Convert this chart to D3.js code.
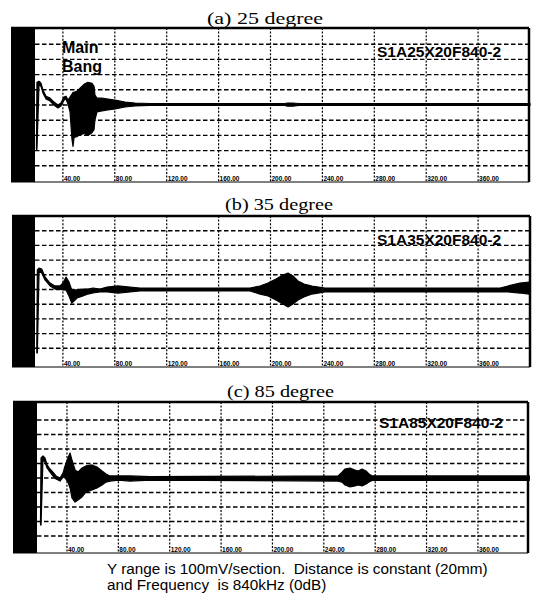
<!DOCTYPE html>
<html>
<head>
<meta charset="utf-8">
<script src="https://cdn.jsdelivr.net/npm/d3@7"></script>
<style>
  body { margin: 0; background: #fff; }
  svg { display: block; }
</style>
</head>
<body>
<svg width="533" height="595"></svg>
<script>
// chart data
const distTicks = [40, 80, 120, 160, 200, 240, 280, 320, 360];
const voltTicks = [-400, -300, -200, -100, 0, 100, 200, 300, 400];
const panelTitles = ["(a) 25 degree", "(b) 35 degree", "(c) 85 degree"];
const sampleNames = ["S1A25X20F840-2", "S1A35X20F840-2", "S1A85X20F840-2"];
const bangLabel = ["Main", "Bang"];
const footNote = [
  "Y range is 100mV/section.  Distance is constant (20mm)",
  "and Frequency  is 840kHz (0dB)"
];

// [distance, upper envelope (mV), lower envelope (mV)]
const trace25 = [
  [19.6, -280, -292], [20.0, 149, -292], [21.6, 156, 136], [23.1, 143, 123],
  [24.7, 97, 78], [27.0, 58, 39], [30.1, 45, 26], [33.1, 19, 0],
  [36.2, 0, -19], [38.5, 13, -6], [40.8, 52, 32], [42.4, 58, 39],
  [43.9, 32, 6], [45.5, 52, -45], [47.0, 71, -227], [47.8, 84, -273],
  [48.6, 84, -214], [50.9, 91, -208], [53.2, 110, -195], [56.3, 136, -188],
  [59.3, 149, -201], [62.4, 143, -182], [64.0, 123, -162], [64.7, 65, -97],
  [66.3, 45, -45], [70.1, 45, -39], [74.8, 39, -32], [80.2, 32, -26],
  [87.9, 19, -13], [95.6, 13, -6], [107, 10, -3], [211, 10, -3],
  [213, 13, -8], [217, 13, -8], [222, 10, -3], [400, 10, -3]
];
const trace35 = [
  [19.9, -377, -432], [20.3, 133, -432], [21.6, 146, 119], [23.7, 139, 112],
  [26.2, 85, 65], [30.1, 44, 24], [33.9, 24, 3], [37.8, 24, 3],
  [40.1, 44, -3], [42.4, 85, -3], [44.7, 51, -44], [46.8, -3, -92],
  [48.6, -3, -78], [50.9, -3, -58], [55.5, 3, -44], [59.3, 3, -31],
  [63.2, 10, -24], [68.6, 3, -17], [74.0, 17, -17], [82.5, 24, -24],
  [91.7, 17, -17], [99.4, 10, -10], [184.2, 10, -10], [191.9, 24, -31],
  [198.1, 44, -44], [204.2, 71, -71], [209.6, 99, -99], [213.5, 112, -119],
  [217.3, 92, -99], [221.2, 58, -71], [225.8, 37, -51], [232.0, 24, -31],
  [242.0, 10, -17], [376.9, 10, -17], [383.0, 24, -17], [392.3, 44, -24],
  [399.2, 51, -31]
];
const trace85 = [
  [19.4, -290, -324], [19.8, 138, -324], [21.3, 152, 124], [22.9, 138, 110],
  [24.5, 90, 69], [26.8, 62, 41], [29.1, 41, 14], [31.5, 14, -7],
  [34.6, 0, -21], [36.9, 34, 7], [38.5, 83, 0], [40.8, 138, -28],
  [42.4, 172, -69], [43.9, 124, -138], [46.3, 55, -166], [48.6, 41, -152],
  [51.7, 69, -131], [54.8, 83, -97], [59.5, 90, -83], [63.4, 76, -69],
  [67.3, 48, -48], [70.4, 28, -28], [73.5, 14, -21], [79.8, 14, -14],
  [89.1, 14, -21], [104.7, 10, -14], [251.1, 14, -21], [254.2, 41, -28],
  [256.5, 62, -48], [260.4, 69, -62], [264.3, 55, -55], [266.7, 48, -48],
  [269.8, 62, -55], [272.9, 48, -41], [275.2, 28, -28], [277.6, 14, -17],
  [400, 14, -17]
];

// panel layout (pixels)
const panels = [
  { trace: trace25, top: 28, bottom: 182, yTop: 29, yBot: 181, x0: 11, x1: 530, left: 11, right: 529, bar: 35,
    titleX: 207, titleW: 116, titleY: 24, nameX: 377, nameY: 57 },
  { trace: trace35, top: 216, bottom: 367, yTop: 216, yBot: 363, x0: 11, x1: 530, left: 12, right: 530, bar: 35,
    titleX: 225, titleW: 108, titleY: 210, nameX: 377, nameY: 245 },
  { trace: trace85, top: 402, bottom: 553, yTop: 405.5, yBot: 550.5, x0: 15.6, x1: 529.3, left: 13, right: 528, bar: 37,
    titleX: 227, titleW: 107, titleY: 397, nameX: 379, nameY: 428 }
];

const svg = d3.select("svg");

panels.forEach((p, i) => {
  const x = d3.scaleLinear().domain([0, 400]).range([p.x0, p.x1]);
  const y = d3.scaleLinear().domain([-500, 500]).range([p.yBot, p.yTop]);
  const g = svg.append("g");

  // title
  g.append("text")
    .attr("x", p.titleX)
    .attr("y", p.titleY)
    .attr("textLength", p.titleW)
    .attr("lengthAdjust", "spacingAndGlyphs")
    .style("font-family", "'Liberation Serif', 'Times New Roman', serif")
    .style("font-size", "17.5px")
    .text(panelTitles[i]);

  // horizontal dashed grid
  g.selectAll(".hgrid")
    .data(voltTicks)
    .enter().append("line")
      .attr("x1", p.bar)
      .attr("x2", p.right)
      .attr("y1", d => y(d))
      .attr("y2", d => y(d))
      .attr("stroke", "#000")
      .attr("stroke-width", 1.4)
      .attr("stroke-dasharray", "4.5,2.5");

  // vertical dotted grid
  g.selectAll(".vgrid")
    .data(distTicks)
    .enter().append("line")
      .attr("x1", d => x(d))
      .attr("x2", d => x(d))
      .attr("y1", p.top)
      .attr("y2", p.bottom)
      .attr("stroke", "#000")
      .attr("stroke-width", 1.2)
      .attr("stroke-dasharray", "2,1.6");

  // tick labels inside the bottom edge
  g.selectAll(".tick-label")
    .data(distTicks)
    .enter().append("text")
      .attr("x", d => x(d) + 1)
      .attr("y", p.bottom - 1.5)
      .style("font-family", "'Liberation Sans', Arial, sans-serif")
      .style("font-size", "6.5px")
      .style("font-weight", "bold")
      .text(d => d3.format(".2f")(d));

  // waveform envelope
  const area = d3.area()
    .x(d => x(d[0]))
    .y0(d => y(d[2]))
    .y1(d => y(d[1]));

  g.append("path")
    .datum(p.trace)
    .attr("d", area)
    .attr("fill", "#000")
    .attr("stroke", "#000")
    .attr("stroke-width", 1.2)
    .attr("stroke-linejoin", "round");

  // frame
  g.append("rect")
    .attr("x", p.left)
    .attr("y", p.top)
    .attr("width", p.bar - p.left)
    .attr("height", p.bottom - p.top)
    .attr("fill", "#000");

  g.append("line")
    .attr("x1", p.left).attr("x2", p.right)
    .attr("y1", p.top).attr("y2", p.top)
    .attr("stroke", "#000").attr("stroke-width", 2.5);
  g.append("line")
    .attr("x1", p.right).attr("x2", p.right)
    .attr("y1", p.top).attr("y2", p.bottom)
    .attr("stroke", "#000").attr("stroke-width", 2.5);
  g.append("line")
    .attr("x1", p.left).attr("x2", p.right)
    .attr("y1", p.bottom).attr("y2", p.bottom)
    .attr("stroke", "#000").attr("stroke-width", 1);

  // sample name
  g.append("text")
    .attr("x", p.nameX)
    .attr("y", p.nameY)
    .style("font-family", "'Liberation Sans', Arial, sans-serif")
    .style("font-size", "15.5px")
    .style("font-weight", "bold")
    .text(sampleNames[i]);
});

// "Main Bang" annotation on the first panel
svg.append("g")
  .selectAll("text")
  .data(bangLabel)
  .enter().append("text")
    .attr("x", 62)
    .attr("y", (d, i) => 53 + i * 19)
    .style("font-family", "'Liberation Sans', Arial, sans-serif")
    .style("font-size", "16px")
    .style("font-weight", "bold")
    .text(d => d);

// footnote
svg.append("g")
  .selectAll("text")
  .data(footNote)
  .enter().append("text")
    .attr("x", 107)
    .attr("y", (d, i) => 574 + i * 16)
    .style("font-family", "'Liberation Sans', Arial, sans-serif")
    .style("font-size", "15.3px")
    .style("white-space", "pre")
    .text(d => d);
</script>
</body>
</html>
